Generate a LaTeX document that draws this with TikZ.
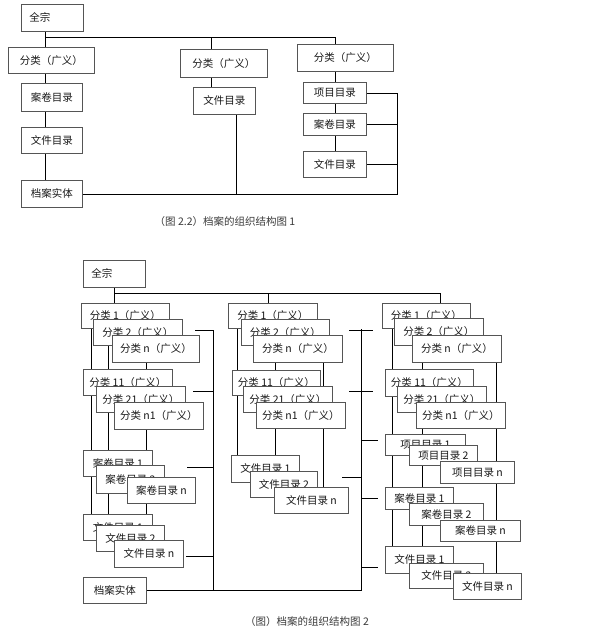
\documentclass[tikz,border=0pt]{standalone}
\usepackage{fontspec}
\newfontfamily\cjk{Noto Sans CJK SC}
\usetikzlibrary{backgrounds}
\definecolor{wire}{RGB}{85, 85, 85}
\definecolor{ink}{RGB}{25, 25, 25}
\newcommand{\bx}[6]{\node[box, minimum width={#4-#2}, minimum height={#5-#3}] (#1) at (#2, #3) {#6};}

\begin{document}
\begin{tikzpicture}[x=1pt, y=-1pt, line width=0.8pt,
  box/.style={draw=wire, fill=white, anchor=north west, inner sep=1pt, text=ink, font=\cjk\fontsize{10.5}{12}\selectfont},
  lbox/.style={box, text width=46pt, inner xsep=8pt, align=left},
  figcap/.style={text=ink!85, font=\cjk\fontsize{10.5}{12}\selectfont}]

  \useasboundingbox (0, 0) rectangle (600, 630);
  \begin{scope}[on background layer]
    \fill[white] (0, 0) rectangle (600, 630);
  \end{scope}

  % figure 1
  \node[lbox, minimum height=27pt] (zq1) at (21, 4) {全宗};
  \bx{lf1}{8}{47}{94}{73}{分类（广义）}
  \bx{lj1}{21}{83}{82}{111}{案卷目录}
  \bx{lw1}{21}{127}{82}{153}{文件目录}
  \bx{dt1}{21}{180}{82}{207}{档案实体}
  \bx{mf1}{180}{49}{267}{77}{分类（广义）}
  \bx{mw1}{193}{87}{255}{114}{文件目录}
  \bx{rf1}{297}{44}{393}{71}{分类（广义）}
  \bx{rx1}{303}{82}{366}{103}{项目目录}
  \bx{rj1}{303}{113}{366}{135}{案卷目录}
  \bx{rw1}{303}{151}{366}{177}{文件目录}
  \node[figcap] (cap1) at (225, 222) {（图 2.2）档案的组织结构图 1};

  % figure 2
  \node[lbox, minimum height=27pt] (zq2) at (83, 260) {全宗};

  \bx{lA1}{81}{303}{169}{328}{分类 1（广义）}
  \bx{lA2}{93}{319}{182}{345}{分类 2（广义）}
  \bx{lAn}{112}{335}{199}{362}{分类 n（广义）}
  \bx{lB1}{83}{369}{172}{395}{分类 11（广义）}
  \bx{lB2}{96}{386}{185}{412}{分类 21（广义）}
  \bx{lBn}{114}{402}{203}{429}{分类 n1（广义）}
  \bx{lC1}{83}{450}{152}{476}{案卷目录 1}
  \bx{lC2}{96}{465}{164}{493}{案卷目录 2}
  \bx{lCn}{127}{477}{195}{503}{案卷目录 n}
  \bx{lD1}{83}{514}{152}{540}{文件目录 1}
  \bx{lD2}{96}{525}{164}{551}{文件目录 2}
  \bx{lDn}{114}{540}{183}{567}{文件目录 n}
  \bx{dt2}{83}{577}{146}{603}{档案实体}

  \bx{mA1}{228}{303}{317}{328}{分类 1（广义）}
  \bx{mA2}{241}{319}{329}{345}{分类 2（广义）}
  \bx{mAn}{253}{335}{342}{362}{分类 n（广义）}
  \bx{mB1}{232}{370}{320}{395}{分类 11（广义）}
  \bx{mB2}{243}{386}{332}{412}{分类 21（广义）}
  \bx{mBn}{256}{402}{345}{428}{分类 n1（广义）}
  \bx{mD1}{231}{455}{299}{482}{文件目录 1}
  \bx{mD2}{250}{471}{317}{497}{文件目录 2}
  \bx{mDn}{274}{487}{348}{513}{文件目录 n}

  \bx{rA1}{382}{303}{470}{328}{分类 1（广义）}
  \bx{rA2}{394}{318}{483}{345}{分类 2（广义）}
  \bx{rAn}{412}{335}{501}{362}{分类 n（广义）}
  \bx{rB1}{385}{369}{473}{396}{分类 11（广义）}
  \bx{rB2}{397}{386}{486}{412}{分类 21（广义）}
  \bx{rBn}{416}{402}{505}{428}{分类 n1（广义）}
  \bx{rP1}{385}{434}{465}{455}{项目目录 1}
  \bx{rP2}{409}{445}{477}{465}{项目目录 2}
  \bx{rPn}{440}{461}{514}{483}{项目目录 n}
  \bx{rC1}{385}{487}{453}{509}{案卷目录 1}
  \bx{rC2}{409}{503}{483}{525}{案卷目录 2}
  \bx{rCn}{440}{520}{520}{541}{案卷目录 n}
  \bx{rD1}{385}{546}{453}{573}{文件目录 1}
  \bx{rD2}{409}{563}{483}{588}{文件目录 2}
  \bx{rDn}{453}{573}{521}{599}{文件目录 n}

  \node[figcap] (cap2) at (307, 622) {（图）档案的组织结构图 2};

  \coordinate (c1l) at (45, 0);
  \coordinate (c1m) at (211, 0);
  \coordinate (c1v) at (236, 0);
  \coordinate (c1r) at (335, 0);
  \coordinate (c1b) at (397, 0);
  \coordinate (l1) at (91, 0);
  \coordinate (l2) at (108, 0);
  \coordinate (l3) at (146, 0);
  \coordinate (lb) at (213, 0);
  \coordinate (mt) at (268, 0);
  \coordinate (m1) at (237, 0);
  \coordinate (m2) at (275, 0);
  \coordinate (m3) at (323, 0);
  \coordinate (mb) at (361, 0);
  \coordinate (rt) at (440, 0);
  \coordinate (r1) at (392, 0);
  \coordinate (r2) at (422, 0);
  \coordinate (r3) at (496, 0);

  \begin{scope}[on background layer, color=wire]
    \draw (zq1.south -| c1l) -- (dt1.north -| c1l);
    \draw (c1l |- 0, 37) -- (c1r |- 0, 37) -- (rw1.north -| c1r);
    \draw (c1m |- 0, 37) -- (mw1.north -| c1m);
    \draw (mw1.south -| c1v) -- (dt1 -| c1v);
    \draw (dt1.east) -- (dt1 -| c1b) -- (rx1 -| c1b) -- (rx1.east);
    \draw (rj1.east) -- (rj1 -| c1b);
    \draw (rw1.east) -- (rw1 -| c1b);

    \draw (zq2.south) -- (lA1.north -| zq2.south);
    \draw (zq2 |- 0, 293) -- (rt |- 0, 293) -- (rA1.north -| rt);
    \draw (mt |- 0, 293) -- (mA1.north -| mt);
    \foreach \c/\a/\b in {l1/lA1/lD1, l2/lA2/lD2, l3/lAn/lDn, m1/mA1/mD1, m2/mAn/mD2, m3/mAn/mDn, r1/rA1/rD1, r2/rAn/rD1, r3/rAn/rDn}
      \draw (\a -| \c) -- (\b -| \c);
    \draw (dt2.east) -- (dt2 -| mb) -- (mb |- 0, 329);
    \draw (lb |- 0, 330) -- (dt2 -| lb);
    \foreach \y/\a in {330/-18, 391/-20, 467/-26, 556/-27}
      \draw (lb |- 0, \y) -- +(\a, 0);
    \foreach \y/\a/\b in {330/-12/12, 391/-12/12, 440/0/17, 477/-19/0, 498/0/17, 567/0/17}
      \draw (mb |- 0, \y) +(\a, 0) -- +(\b, 0);
  \end{scope}

\end{tikzpicture}
\end{document}
